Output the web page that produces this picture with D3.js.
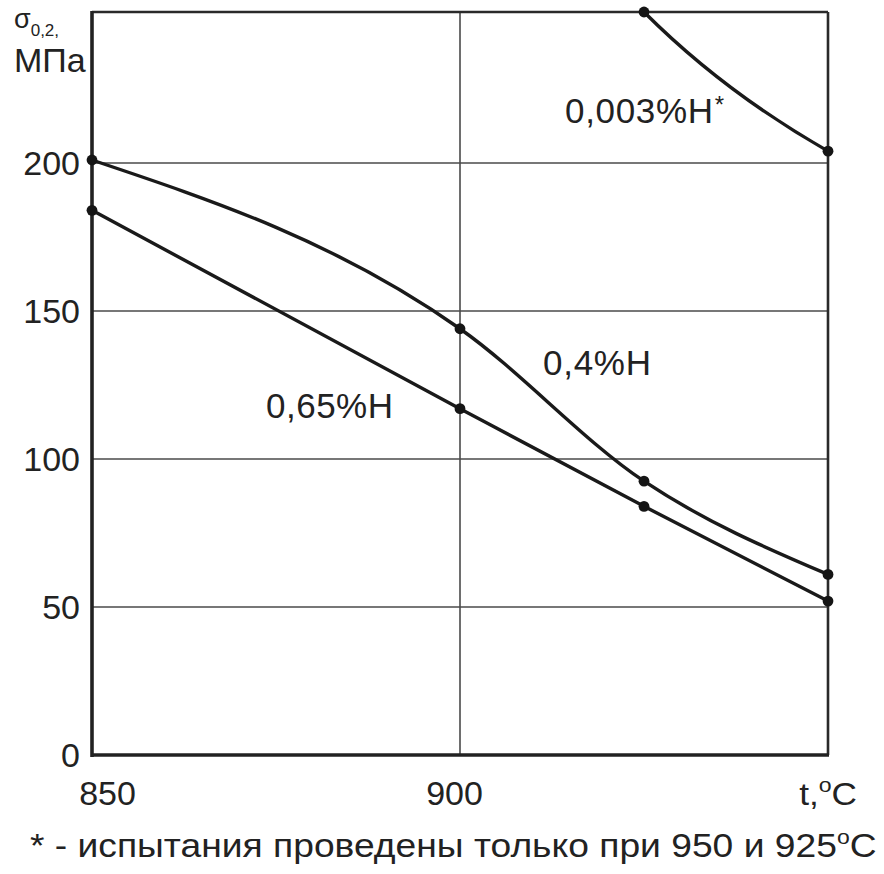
<!DOCTYPE html>
<html>
<head>
<meta charset="utf-8">
<script src="https://cdn.jsdelivr.net/npm/d3@7"></script>
<style>
  html, body { margin: 0; padding: 0; background: #fff; }
  svg { display: block; }
  text { font-family: "Liberation Sans", Arial, sans-serif; fill: #222; }
</style>
</head>
<body>
<svg id="chart" width="884" height="874"></svg>
<script>
// Yield strength σ0,2 (MPa) vs test temperature (°C) for different hydrogen contents
const temps = [850, 900, 925, 950];
const h04 = [201, 144, 92.5, 61];     // 0,4%H
const h065 = [184, 117, 84, 52];     // 0,65%H
const temps003 = [925, 950];
const h0003 = [251, 204];            // 0,003%H* (tested at 925 and 950 only)
const yTicks = [0, 50, 100, 150, 200];
const xTicks = [850, 900];
const xGrid = [900];
const yGrid = [50, 100, 150, 200];

const svg = d3.select("#chart");
const pLeft = 92, pRight = 828, pTop = 12, pBottom = 755;

const x = d3.scaleLinear().domain([850, 950]).range([pLeft, pRight]);
const y = d3.scaleLinear().domain([0, 251]).range([pBottom, pTop]);

// grid
svg.append("g").selectAll("line").data(yGrid).join("line")
  .attr("x1", pLeft).attr("x2", pRight)
  .attr("y1", d => y(d)).attr("y2", d => y(d))
  .attr("stroke", "#4a4a4a").attr("stroke-width", 1.6);
svg.append("g").selectAll("line").data(xGrid).join("line")
  .attr("x1", d => x(d)).attr("x2", d => x(d))
  .attr("y1", pTop).attr("y2", pBottom)
  .attr("stroke", "#4a4a4a").attr("stroke-width", 1.6);

// frame: top and right thinner, axes heavier
svg.append("line").attr("x1", pLeft).attr("x2", pRight).attr("y1", pTop).attr("y2", pTop)
  .attr("stroke", "#2a2a2a").attr("stroke-width", 2.6);
svg.append("line").attr("x1", pRight).attr("x2", pRight).attr("y1", pTop).attr("y2", pBottom)
  .attr("stroke", "#2a2a2a").attr("stroke-width", 2.6);

// axes (labels only, lines drawn separately)
const yAxis = svg.append("g").attr("transform", `translate(${pLeft},0)`)
  .call(d3.axisLeft(y).tickValues(yTicks).tickSize(0).tickPadding(12));
yAxis.select(".domain").remove();
yAxis.selectAll("text").attr("font-size", 34).attr("dy", "0.35em")
  .style("font-family", "'Liberation Sans', Arial, sans-serif").attr("fill", "#222");

const xAxis = svg.append("g").attr("transform", `translate(0,${pBottom})`)
  .call(d3.axisBottom(x).tickValues(xTicks).tickSize(0).tickPadding(0));
xAxis.select(".domain").remove();
xAxis.selectAll("text").attr("font-size", 34).attr("dy", null).attr("y", 50)
  .attr("dx", (d, i) => i === 0 ? 15 : -6)
  .style("font-family", "'Liberation Sans', Arial, sans-serif").attr("fill", "#222");

svg.append("line").attr("x1", pLeft).attr("x2", pLeft).attr("y1", pTop - 1).attr("y2", pBottom + 2)
  .attr("stroke", "#222").attr("stroke-width", 3.6);
svg.append("line").attr("x1", pLeft - 1).attr("x2", pRight + 1).attr("y1", pBottom).attr("y2", pBottom)
  .attr("stroke", "#222").attr("stroke-width", 3.6);

// curves
const line = d3.line().x(d => x(d[0])).y(d => y(d[1])).curve(d3.curveMonotoneX);
const s04 = temps.map((t, i) => [t, h04[i]]);
const s065 = temps.map((t, i) => [t, h065[i]]);
const s0003 = temps003.map((t, i) => [t, h0003[i]]);

const curves = svg.append("g").attr("fill", "none").attr("stroke", "#1a1a1a")
  .attr("stroke-width", 3.4).attr("stroke-linecap", "round").attr("stroke-linejoin", "round");
curves.append("path").attr("d", line(s04));
curves.append("path").attr("d", line(s065));

// two-point series: slight sag between its measured points
{
  const [p0, p1] = s0003.map(d => [x(d[0]), y(d[1])]);
  const c = [p0[0] + 0.43 * (p1[0] - p0[0]), p0[1] + 0.57 * (p1[1] - p0[1])];
  curves.append("path").attr("d", `M${p0[0]},${p0[1]}Q${c[0]},${c[1]} ${p1[0]},${p1[1]}`);
}

// markers
svg.append("g").selectAll("circle").data([...s04, ...s065, ...s0003]).join("circle")
  .attr("cx", d => x(d[0])).attr("cy", d => y(d[1])).attr("r", 5.4).attr("fill", "#151515");

// curve labels
const lab = svg.append("g").attr("font-size", 35);
lab.append("text").attr("x", 266).attr("y", 418).attr("textLength", 127).text("0,65%H");
lab.append("text").attr("x", 543).attr("y", 375).attr("textLength", 108).text("0,4%H");
const t3 = lab.append("text").attr("x", 565).attr("y", 123);
t3.append("tspan").attr("textLength", 148).text("0,003%H");
t3.append("tspan").attr("font-size", 24).attr("dy", -10).attr("dx", 1).text("*");

// y title
const yt = svg.append("text").attr("x", 14).attr("y", 28);
yt.append("tspan").attr("font-size", 27).text("σ");
yt.append("tspan").attr("font-size", 17).attr("dy", 8).text("0,2");
yt.append("tspan").attr("font-size", 17).text(",");
svg.append("text").attr("x", 14).attr("y", 72).attr("font-size", 34).text("МПа");

// x title
const xt = svg.append("g").attr("transform", "translate(857,805) scale(1.1,1)")
  .append("text").attr("text-anchor", "end").attr("font-size", 32);
xt.append("tspan").text("t,");
xt.append("tspan").attr("font-size", 21).attr("dy", -13).text("o");
xt.append("tspan").attr("dy", 13).text("C");

// footnote
const fn = svg.append("g").attr("transform", "translate(30,857) scale(1.095,1)")
  .append("text").attr("font-size", 34);
fn.append("tspan").text("* - испытания проведены только при 950 и 925");
fn.append("tspan").attr("font-size", 21).attr("dy", -13).text("o");
fn.append("tspan").attr("dy", 13).text("C");
</script>
</body>
</html>
